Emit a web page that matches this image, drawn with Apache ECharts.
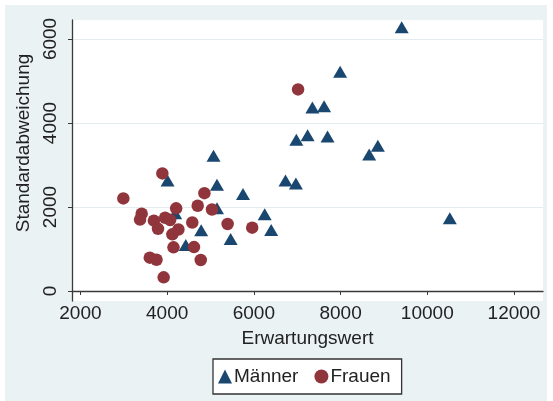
<!DOCTYPE html>
<html>
<head>
<meta charset="utf-8">
<script src="https://cdn.jsdelivr.net/npm/echarts@6/dist/echarts.min.js"></script>
<style>
html,body{margin:0;padding:0;background:#ffffff;}
#chart{position:absolute;left:5px;top:5px;width:542px;height:396px;}
</style>
</head>
<body>
<div id="chart"></div>
<script>
const xTicks = [2000, 4000, 6000, 8000, 10000, 12000];
const yTicks = [0, 2000, 4000, 6000];

const menX = [9410, 7990, 7350, 7620, 7240, 6980, 7700, 8860, 8660, 5070, 4010, 5150, 6730, 6970, 5750, 5150, 6250, 10520, 4785, 6400, 5465, 4430, 4185];
const menY = [6280, 5220, 4370, 4400, 3710, 3600, 3680, 3460, 3250, 3220, 2630, 2530, 2630, 2560, 2310, 1970, 1830, 1730, 1445, 1450, 1240, 1095, 1850];

const womenX = [7020, 3890, 2990, 4860, 4705, 5035, 4208, 3413, 3375, 3695, 3954, 4070, 4580, 3790, 4260, 4120, 5395, 5962, 4147, 4620, 3600, 3755, 4775, 3920];
const womenY = [4800, 2800, 2205, 2330, 2030, 1940, 1969, 1840, 1700, 1675, 1745, 1690, 1630, 1480, 1465, 1350, 1595, 1508, 1040, 1045, 794, 745, 738, 325];

const seriesNames = ['Männer', 'Frauen'];
const xTitle = 'Erwartungswert';
const yTitle = 'Standardabweichung';

const pairs = (xs, ys) => xs.map((x, i) => [x, ys[i]]);
const font = 'Liberation Sans, Arial, sans-serif';
const plain = v => String(v);

const chart = echarts.init(document.getElementById('chart'));
chart.setOption({
  backgroundColor: '#eaf2f3',
  animation: false,
  textStyle: { fontFamily: font },
  grid: { left: 67, right: 4, top: 15, bottom: 100, show: true, backgroundColor: '#ffffff', borderWidth: 0 },
  xAxis: {
    type: 'value', min: 1806, max: 12669,
    name: xTitle, nameLocation: 'middle', nameGap: 28,
    nameTextStyle: { fontSize: 19, color: '#222', fontFamily: font },
    axisLine: { show: true, lineStyle: { color: '#3a3a3a', width: 1.3 } },
    axisTick: { show: true, length: 4, customValues: xTicks, lineStyle: { color: '#3a3a3a' } },
    axisLabel: { customValues: xTicks, formatter: plain, fontSize: 19, color: '#222', margin: 3, fontFamily: font },
    splitLine: { show: false }
  },
  yAxis: {
    type: 'value', min: -238, max: 6452,
    name: yTitle, nameLocation: 'middle', nameGap: 30,
    nameTextStyle: { fontSize: 19, color: '#222', fontFamily: font, padding: [0, 0, 0, 35] },
    axisLine: { show: true, lineStyle: { color: '#3a3a3a', width: 1.3 } },
    axisTick: { show: true, length: 4, customValues: yTicks, lineStyle: { color: '#3a3a3a' } },
    axisLabel: { customValues: yTicks, formatter: plain, rotate: 90, fontSize: 19, color: '#222', margin: 12, fontFamily: font },
    splitLine: { show: true, lineStyle: { color: '#e3ecee', width: 1 } }
  },
  legend: {
    left: 208, top: 354,
    orient: 'horizontal',
    backgroundColor: '#ffffff',
    borderColor: '#333',
    borderWidth: 1.3,
    borderRadius: 0,
    padding: [8, 11, 8, 5],
    itemGap: 16,
    itemWidth: 14, itemHeight: 14,
    textStyle: { fontSize: 19, color: '#222', fontFamily: font, padding: [0, 0, 0, -3] },
    data: [{ name: seriesNames[0], icon: 'triangle' }, { name: seriesNames[1], icon: 'circle' }]
  },
  series: [
    { name: seriesNames[0], type: 'scatter', symbol: 'triangle', symbolSize: [14, 12],
      itemStyle: { color: '#1a476f', opacity: 1 }, data: pairs(menX, menY) },
    { name: seriesNames[1], type: 'scatter', symbol: 'circle', symbolSize: 12.5,
      itemStyle: { color: '#90353b', opacity: 1 }, data: pairs(womenX, womenY) }
  ]
});
</script>
</body>
</html>
